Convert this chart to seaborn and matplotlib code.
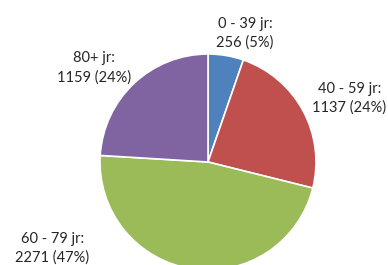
import matplotlib
matplotlib.use("Agg")
import matplotlib.pyplot as plt
import seaborn as sns

categories = ["0 - 39 jr", "40 - 59 jr", "60 - 79 jr", "80+ jr"]
values = [256, 1137, 2271, 1159]
percents = [5, 24, 47, 24]
colors = ["#4F81BD", "#C0504D", "#9BBB59", "#8064A2"]

sns.set_theme(style="white")
plt.rcParams['font.family'] = ['Lato', 'DejaVu Sans']

fig = plt.figure(figsize=(3.88, 2.65), dpi=100)
ax = fig.add_axes([0, 0, 1, 1])
ax.pie(values, colors=colors, startangle=90, counterclock=False,
       radius=1.0, wedgeprops=dict(edgecolor="white", linewidth=1.2))
ax.set_aspect("auto")
ax.set_xlim(-208/108, (388-208)/108)
ax.set_ylim(-(265-162)/108, 162/108)
ax.axis("off")

label_pos = [(0.343, 1.19), (1.31, 0.59), (-1.44, -0.80), (-1.055, 0.87)]
for cat, v, p, (x, y) in zip(categories, values, percents, label_pos):
    ax.text(x, y, f"{cat}:\n{v} ({p}%)", ha="center", va="center",
            fontsize=10.5, color="#262626", linespacing=1.45)

fig.savefig("out.png", dpi=100, facecolor="white")
